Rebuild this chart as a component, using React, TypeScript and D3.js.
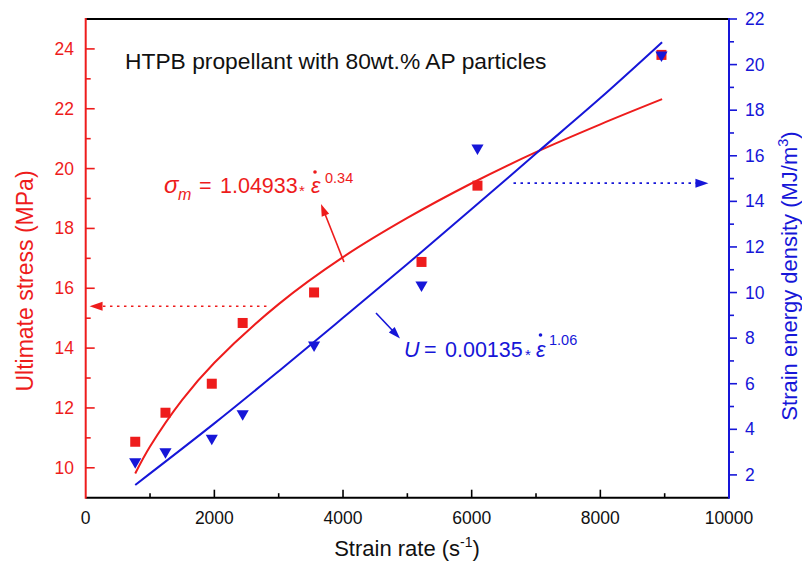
import React from 'react';
import * as d3 from 'd3';

// Experimental points
const strainRate = [770, 1240, 1960, 2440, 3550, 5220, 6090, 8950];
const stress = [10.87, 11.84, 12.81, 14.84, 15.86, 16.88, 19.43, 23.8];
const energy = [2.58, 3.02, 3.61, 4.68, 7.7, 10.33, 16.34, 20.42];

// Fitted curves
const stressFitX = [770, 1000, 1500, 2000, 3000, 4000, 5000, 6000, 7000, 8000, 8960];
const stressFitY = [9.81, 10.71, 12.27, 13.51, 15.47, 17.04, 18.35, 19.51, 20.55, 21.48, 22.32];
const energyFitX = [770, 2000, 3000, 4000, 5000, 6000, 7000, 8000, 8960];
const energyFitY = [1.56, 4.26, 6.55, 8.89, 11.25, 13.66, 16.1, 18.53, 20.98];

const xMajor = [0, 2000, 4000, 6000, 8000, 10000];
const xMinor = [1000, 3000, 5000, 7000, 9000];
const leftMajor = [10, 12, 14, 16, 18, 20, 22, 24];
const leftMinor = [11, 13, 15, 17, 19, 21, 23];
const rightMajor = [2, 4, 6, 8, 10, 12, 14, 16, 18, 20, 22];
const rightMinor = [3, 5, 7, 9, 11, 13, 15, 17, 19, 21];

const RED = '#ee1c1c';
const BLUE = '#1616d8';
const FONT = '"Liberation Sans", Arial, sans-serif';

export default function App() {
  const L = 85.7, R = 729, T = 19, B = 497.7;
  const x = d3.scaleLinear().domain([0, 10000]).range([L, R]);
  const yL = d3.scaleLinear().domain([9, 25]).range([B, T]);
  const yR = d3.scaleLinear().domain([1, 22]).range([B, T]);

  const redLine = d3.line<number>()
    .x((_, i) => x(stressFitX[i]))
    .y((d) => yL(d))
    .curve(d3.curveCatmullRom)(stressFitY) as string;
  const blueLine = d3.line<number>()
    .x((_, i) => x(energyFitX[i]))
    .y((d) => yR(d))
    .curve(d3.curveCatmullRom)(energyFitY) as string;

  const tri = d3.symbol().type(d3.symbolTriangle).size(64)() as string;

  const arrowHead = (x1: number, y1: number, x2: number, y2: number, color: string, len = 12, w = 4.5) => {
    const a = Math.atan2(y2 - y1, x2 - x1);
    const bx = x2 - len * Math.cos(a), by = y2 - len * Math.sin(a);
    const px = -Math.sin(a) * w, py = Math.cos(a) * w;
    return <path d={`M${x2},${y2}L${bx + px},${by + py}L${bx - px},${by - py}Z`} fill={color} />;
  };

  // annotation positions (data coordinates)
  const redDotY = yL(15.4), redDotX1 = x(2810), redDotX2 = x(60);
  const blueDotY = yR(14.8), blueDotX1 = x(6650), blueDotX2 = x(9680);

  return (
    <svg width={802} height={574} style={{ position: 'absolute', left: 0, top: 0, background: '#fff' }} fontFamily={FONT}>
      <rect width={802} height={574} fill="#fff" />
      {/* curves */}
      <path d={redLine} fill="none" stroke={RED} strokeWidth={2} />
      <path d={blueLine} fill="none" stroke={BLUE} strokeWidth={2} />
      {/* markers */}
      {strainRate.map((s, i) => (
        <rect key={'s' + i} x={x(s) - 5} y={yL(stress[i]) - 5} width={10} height={10} fill={RED} />
      ))}
      {strainRate.map((s, i) => (
        <path key={'t' + i} d={tri} transform={`translate(${x(s)},${yR(energy[i])}) rotate(180)`} fill={BLUE} />
      ))}

      {/* dotted arrows */}
      <line x1={redDotX1} y1={redDotY} x2={redDotX2 + 10} y2={redDotY} stroke={RED} strokeWidth={1.6} strokeDasharray="2.5,4.5" />
      {arrowHead(redDotX1, redDotY, redDotX2, redDotY, RED, 13, 4.5)}
      <line x1={blueDotX1} y1={blueDotY} x2={blueDotX2 - 10} y2={blueDotY} stroke={BLUE} strokeWidth={1.6} strokeDasharray="2.5,4.5" />
      {arrowHead(blueDotX1, blueDotY, blueDotX2, blueDotY, BLUE, 13, 4.5)}

      {/* solid arrows */}
      <line x1={344} y1={262} x2={325} y2={214} stroke={RED} strokeWidth={1.6} />
      {arrowHead(344, 262, 321, 204, RED, 12, 4)}
      <line x1={376} y1={313} x2={393} y2={331} stroke={BLUE} strokeWidth={1.6} />
      {arrowHead(376, 313, 400, 338.5, BLUE, 12, 4)}

      {/* axes */}
      <line x1={L} y1={T} x2={R} y2={T} stroke="#000" strokeWidth={2} />
      <line x1={L} y1={B} x2={R} y2={B} stroke="#000" strokeWidth={2} />
      <line x1={L} y1={T - 1} x2={L} y2={B + 1} stroke={RED} strokeWidth={2} />
      <line x1={R} y1={T - 1} x2={R} y2={B + 1} stroke={BLUE} strokeWidth={2} />

      {/* x ticks */}
      {xMajor.map((v) => (
        <g key={'xM' + v}>
          {v > 0 && v < 10000 && <line x1={x(v)} x2={x(v)} y1={B} y2={B - 8} stroke="#000" strokeWidth={1.6} />}
          <text x={x(v)} y={524} textAnchor="middle" fontSize={17.5} fill="#111">{v}</text>
        </g>
      ))}
      {xMinor.map((v) => (
        <line key={'xm' + v} x1={x(v)} x2={x(v)} y1={B} y2={B - 4.5} stroke="#000" strokeWidth={1.6} />
      ))}

      {/* left ticks */}
      {leftMajor.map((v) => (
        <g key={'lM' + v}>
          <line x1={L} x2={L + 9} y1={yL(v)} y2={yL(v)} stroke={RED} strokeWidth={1.6} />
          <text x={74} y={yL(v) + 6} textAnchor="end" fontSize={17.5} fill={RED}>{v}</text>
        </g>
      ))}
      {leftMinor.map((v) => (
        <line key={'lm' + v} x1={L} x2={L + 5} y1={yL(v)} y2={yL(v)} stroke={RED} strokeWidth={1.6} />
      ))}

      {/* right ticks */}
      {rightMajor.map((v) => (
        <g key={'rM' + v}>
          <line x1={R} x2={R + 8} y1={yR(v)} y2={yR(v)} stroke={BLUE} strokeWidth={1.6} />
          <text x={745} y={yR(v) + 6} textAnchor="start" fontSize={17.5} fill={BLUE}>{v}</text>
        </g>
      ))}
      {rightMinor.map((v) => (
        <line key={'rm' + v} x1={R} x2={R + 5} y1={yR(v)} y2={yR(v)} stroke={BLUE} strokeWidth={1.6} />
      ))}

      {/* axis titles */}
      <text x={407} y={556} textAnchor="middle" fontSize={22} fill="#111">
        Strain rate (s<tspan dy={-9} fontSize={14}>-1</tspan><tspan dy={9}>)</tspan>
      </text>
      <text transform={`translate(33,281) rotate(-90)`} textAnchor="middle" fontSize={23} fill={RED}>
        Ultimate stress (MPa)
      </text>
      <text transform={`translate(797,276) rotate(-90)`} textAnchor="middle" fontSize={22} fill={BLUE}>
        Strain energy density (MJ/m<tspan dy={-9} fontSize={14.5}>3</tspan><tspan dy={9}>)</tspan>
      </text>

      {/* title */}
      <text x={125} y={68.5} fontSize={22.8} fill="#111">HTPB propellant with 80wt.% AP particles</text>

      {/* red equation */}
      <g fill={RED}>
        <text x={164} y={193} fontSize={24} fontStyle="italic">σ</text>
        <text x={178} y={200} fontSize={16} fontStyle="italic">m</text>
        <text x={199} y={193} fontSize={21.5}>=</text>
        <text x={220} y={193} fontSize={21.5}>1.04933</text>
        <text x={299} y={196} fontSize={15}>*</text>
        <text x={311} y={193} fontSize={21.5} fontStyle="italic">ε</text>
        <text x={325} y={183} fontSize={14.5}>0.34</text>
        <circle cx={315} cy={172} r={1.8} />
      </g>

      {/* blue equation */}
      <g fill={BLUE}>
        <text x={404} y={357} fontSize={21.5} fontStyle="italic">U</text>
        <text x={424} y={357} fontSize={21.5}>=</text>
        <text x={445} y={357} fontSize={21.5}>0.00135</text>
        <text x={525} y={360} fontSize={15}>*</text>
        <text x={536} y={357} fontSize={21.5} fontStyle="italic">ε</text>
        <text x={549} y={345} fontSize={14.5}>1.06</text>
        <circle cx={540.5} cy={335} r={1.8} />
      </g>
    </svg>
  );
}
